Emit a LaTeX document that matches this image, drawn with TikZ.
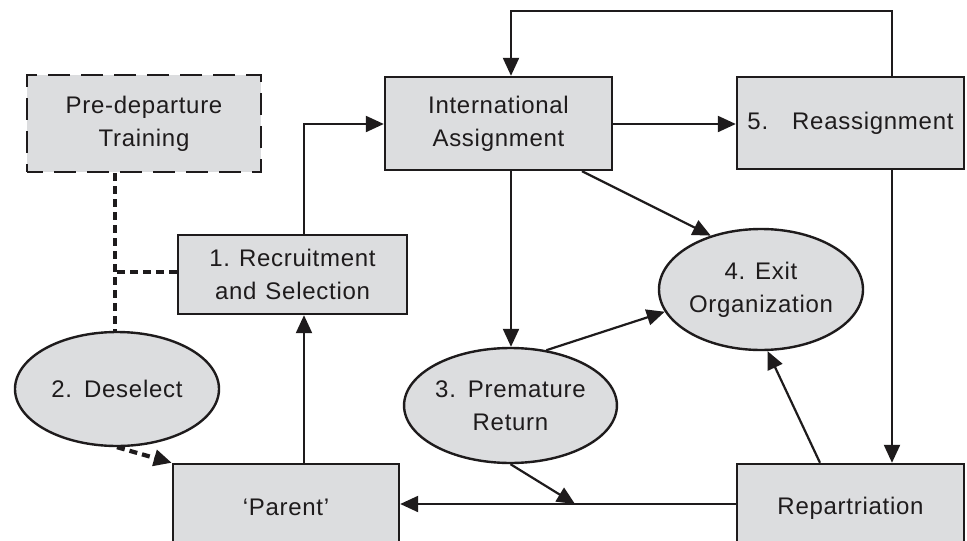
\documentclass[tikz,border=0pt]{standalone}
\usepackage{fontspec}
\setmainfont{Liberation Sans}[LetterSpace=3]
\usetikzlibrary{shapes.geometric,arrows.meta,calc}
\definecolor{boxfill}{RGB}{220,221,223}
\definecolor{ink}{RGB}{30,27,28}

\begin{document}
\begin{tikzpicture}[x=1pt,y=-1pt,
  every node/.style={font=\fontsize{24}{33}\selectfont, text=ink, align=center, inner sep=0pt},
  stagebox/.style={draw=ink, fill=boxfill, line width=2.4pt, rectangle},
  stageoval/.style={draw=ink, fill=boxfill, line width=2.4pt, ellipse},
  optionalbox/.style={stagebox, line width=2.8pt, dash pattern=on 22pt off 11pt, dash phase=6pt},
  tip/.style={-{Triangle[length=18pt,width=16pt]}},
  flow/.style={draw=ink, line width=2.2pt, tip},
  link/.style={draw=ink, line width=4.2pt, dash pattern=on 8pt off 5pt}]

% page frame
\fill[white] (0,0) rectangle (967,541);
\useasboundingbox (0,0) rectangle (967,541);
\clip (0,0) rectangle (967,541);

% stages
\node[optionalbox, minimum width=234pt, minimum height=97pt]
  (pre) at (144,123.5) {Pre-departure\\Training};
\node[stagebox, minimum width=229pt, minimum height=79pt]
  (rec) at (292.5,274.5) {1.\hspace{9pt}Recruitment\\and\hspace{9pt}Selection};
\node[stagebox, minimum width=227pt, minimum height=93pt]
  (ia) at (498.5,123.5) {International\\Assignment};
\node[stagebox, minimum width=227pt, minimum height=92pt]
  (rea) at (850.5,123) {5.\hspace{24pt}Reassignment};
\node[stagebox, minimum width=226pt, minimum height=86pt]
  (parent) at (286,507) {‘Parent’};
\node[stagebox, minimum width=227pt, minimum height=88pt]
  (rep) at (850.5,508) {Repartriation};
\node[stageoval, minimum width=204pt, minimum height=121pt]
  (exit) at (761,289.5) {4. Exit\\Organization};
\node[stageoval, minimum width=205pt, minimum height=115pt]
  (prem) at (510.5,405.5) {3.\hspace{12pt}Premature\\Return};
\node[stageoval, minimum width=204pt, minimum height=114pt]
  (desel) at (117,389) {2.\hspace{12pt}Deselect};

% guide positions for the connectors
\coordinate (xa) at (304,0);
\coordinate (xd) at (115,0);
\coordinate (xr) at (892,0);
\coordinate (xi) at (511,0);
\coordinate (xe) at (582,0);
\coordinate (xp) at (820,0);
\coordinate (ytop) at (0,11);
\coordinate (ylow) at (0,504);
\coordinate (ymid) at (0,124);
\coordinate (ydash) at (0,272);
\coordinate (join) at (575,504);

% solid flows
\draw[flow] (parent.north -| xa) -- (rec.south -| xa);
\draw[flow] (rec.north -| xa) |- (ia.west |- ymid);
\draw[flow] (ia.east |- ymid) -- (rea.west |- ymid);
\draw[flow] (rea.north -| xr) -- (xr |- ytop) -- (xi |- ytop) -- (ia.north -| xi);
\draw[flow] (rea.south -| xr) -- (rep.north -| xr);
\draw[flow] (ia.south -| xi) -- (prem.north -| xi);
\draw[flow] (ia.south -| xe) -- (exit.133);
\draw[flow] (prem.57) -- (exit.193);
\draw[flow] (rep.north -| xp) -- (exit.276);
\draw[flow] (rep.west |- ylow) -- (parent.east |- ylow);
\draw[flow] (prem.south) -- (join);

% dashed links
\draw[link] (pre.south -| xd) -- (desel.north -| xd);
\draw[link] (rec.west |- ydash) -- (xd |- ydash);
\draw[link, tip] (desel.south) -- (parent.north west);
\end{tikzpicture}
\end{document}
